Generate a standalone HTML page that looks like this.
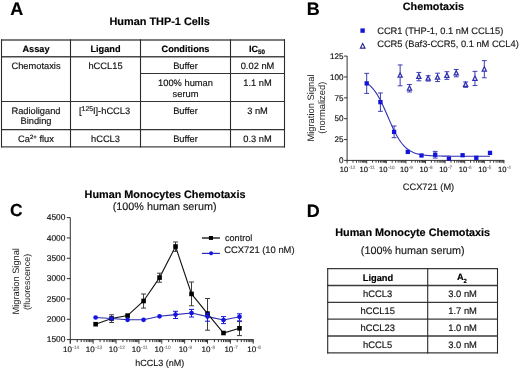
<!DOCTYPE html>
<html><head><meta charset="utf-8"><style>
html,body{margin:0;padding:0;background:#fff;width:520px;height:370px;overflow:hidden}
svg{display:block;font-family:"Liberation Sans", sans-serif;will-change:transform}
text{stroke-width:0.16px;text-rendering:geometricPrecision}
</style></head><body>
<svg width="520" height="370" viewBox="0 0 520 370">
<rect width="520" height="370" fill="#fff"/>
<text x="10.30" y="14.70" font-size="18" text-anchor="start" font-weight="bold" fill="#000" stroke="#000" stroke-width="0.18">A</text>
<text x="159.70" y="24.90" font-size="10.9" text-anchor="middle" font-weight="bold" fill="#000" stroke="#000" stroke-width="0.18">Human THP-1 Cells</text>
<line x1="1.00" y1="40.00" x2="285.00" y2="40.00" stroke="#505050" stroke-width="1.4"/>
<line x1="1.00" y1="56.70" x2="285.00" y2="56.70" stroke="#484848" stroke-width="1.4"/>
<line x1="1.00" y1="101.50" x2="285.00" y2="101.50" stroke="#333" stroke-width="1.1"/>
<line x1="1.00" y1="129.60" x2="285.00" y2="129.60" stroke="#333" stroke-width="1.15"/>
<line x1="1.00" y1="146.85" x2="285.00" y2="146.85" stroke="#444" stroke-width="1.4"/>
<line x1="140.50" y1="73.50" x2="285.00" y2="73.50" stroke="#333" stroke-width="1.1"/>
<line x1="1.50" y1="39.30" x2="1.50" y2="147.50" stroke="#2a2a2a" stroke-width="1.1"/>
<line x1="70.50" y1="39.30" x2="70.50" y2="147.50" stroke="#2a2a2a" stroke-width="1.1"/>
<line x1="140.50" y1="39.30" x2="140.50" y2="147.50" stroke="#2a2a2a" stroke-width="1.1"/>
<line x1="230.50" y1="39.30" x2="230.50" y2="147.50" stroke="#2a2a2a" stroke-width="1.1"/>
<line x1="284.50" y1="39.30" x2="284.50" y2="147.50" stroke="#2a2a2a" stroke-width="1.1"/>
<text x="36.00" y="51.50" font-size="9.2" text-anchor="middle" font-weight="bold" fill="#000" stroke="#000" stroke-width="0.18">Assay</text>
<text x="105.50" y="51.50" font-size="9.2" text-anchor="middle" font-weight="bold" fill="#000" stroke="#000" stroke-width="0.18">Ligand</text>
<text x="185.50" y="51.50" font-size="9.2" text-anchor="middle" font-weight="bold" fill="#000" stroke="#000" stroke-width="0.18">Conditions</text>
<text x="249.00" y="51.50" font-size="9.0" text-anchor="start" font-weight="bold" fill="#000" stroke="#000" stroke-width="0.18">IC<tspan font-size="6.3" dy="2.4">50</tspan></text>
<text x="36.00" y="68.50" font-size="9.3" text-anchor="middle" fill="#111" stroke="#111">Chemotaxis</text>
<text x="105.50" y="68.50" font-size="9.3" text-anchor="middle" fill="#111" stroke="#111">hCCL15</text>
<text x="185.50" y="68.50" font-size="9.3" text-anchor="middle" fill="#111" stroke="#111">Buffer</text>
<text x="257.50" y="68.50" font-size="9.3" text-anchor="middle" fill="#111" stroke="#111">0.02 nM</text>
<text x="185.50" y="85.50" font-size="9.3" text-anchor="middle" fill="#111" stroke="#111">100% human</text>
<text x="185.50" y="96.50" font-size="9.3" text-anchor="middle" fill="#111" stroke="#111">serum</text>
<text x="257.50" y="85.50" font-size="9.3" text-anchor="middle" fill="#111" stroke="#111">1.1 nM</text>
<text x="36.00" y="113.60" font-size="9.3" text-anchor="middle" fill="#111" stroke="#111">Radioligand</text>
<text x="36.00" y="124.30" font-size="9.3" text-anchor="middle" fill="#111" stroke="#111">Binding</text>
<text x="104.60" y="113.80" font-size="9.3" text-anchor="middle" fill="#111" stroke="#111">[<tspan font-size="6.8" dy="-3.2">125</tspan><tspan dy="3.2">I]-hCCL3</tspan></text>
<text x="185.50" y="113.80" font-size="9.3" text-anchor="middle" fill="#111" stroke="#111">Buffer</text>
<text x="257.50" y="113.80" font-size="9.3" text-anchor="middle" fill="#111" stroke="#111">3 nM</text>
<text x="36.00" y="141.50" font-size="9.3" text-anchor="middle" fill="#111" stroke="#111">Ca<tspan font-size="6" dy="-3">2+</tspan><tspan dy="3"> flux</tspan></text>
<text x="105.50" y="141.50" font-size="9.3" text-anchor="middle" fill="#111" stroke="#111">hCCL3</text>
<text x="185.50" y="141.50" font-size="9.3" text-anchor="middle" fill="#111" stroke="#111">Buffer</text>
<text x="257.50" y="141.50" font-size="9.3" text-anchor="middle" fill="#111" stroke="#111">0.3 nM</text>
<text x="306.80" y="14.60" font-size="18" text-anchor="start" font-weight="bold" fill="#000" stroke="#000" stroke-width="0.18">B</text>
<text x="433.40" y="10.40" font-size="10.8" text-anchor="middle" font-weight="bold" fill="#000" stroke="#000" stroke-width="0.18">Chemotaxis</text>
<rect x="360.4" y="28.4" width="4.4" height="4.4" fill="#1414d8"/>
<path d="M362.7 43.5 L365.0 48.1 L360.4 48.1 Z" fill="none" stroke="#2a2a8c" stroke-width="1.15"/>
<text x="377.20" y="33.70" font-size="9.3" text-anchor="start" fill="#1a1a1a" stroke="#1a1a1a">CCR1 (THP-1, 0.1 nM CCL15)</text>
<text x="377.20" y="47.30" font-size="9.3" text-anchor="start" fill="#1a1a1a" stroke="#1a1a1a">CCR5 (Baf3-CCR5, 0.1 nM CCL4)</text>
<line x1="347.10" y1="56.10" x2="347.10" y2="160.90" stroke="#333" stroke-width="1.0"/>
<line x1="346.60" y1="160.40" x2="504.40" y2="160.40" stroke="#333" stroke-width="1.0"/>
<line x1="344.10" y1="160.40" x2="347.10" y2="160.40" stroke="#333" stroke-width="1.0"/>
<text x="343.40" y="163.20" font-size="8.1" text-anchor="end" fill="#111" stroke="#111">0</text>
<line x1="344.10" y1="139.54" x2="347.10" y2="139.54" stroke="#333" stroke-width="1.0"/>
<text x="343.40" y="142.34" font-size="8.1" text-anchor="end" fill="#111" stroke="#111">25</text>
<line x1="344.10" y1="118.68" x2="347.10" y2="118.68" stroke="#333" stroke-width="1.0"/>
<text x="343.40" y="121.48" font-size="8.1" text-anchor="end" fill="#111" stroke="#111">50</text>
<line x1="344.10" y1="97.82" x2="347.10" y2="97.82" stroke="#333" stroke-width="1.0"/>
<text x="343.40" y="100.62" font-size="8.1" text-anchor="end" fill="#111" stroke="#111">75</text>
<line x1="344.10" y1="76.96" x2="347.10" y2="76.96" stroke="#333" stroke-width="1.0"/>
<text x="343.40" y="79.76" font-size="8.1" text-anchor="end" fill="#111" stroke="#111">100</text>
<line x1="344.10" y1="56.10" x2="347.10" y2="56.10" stroke="#333" stroke-width="1.0"/>
<text x="343.40" y="58.90" font-size="8.1" text-anchor="end" fill="#111" stroke="#111">125</text>
<line x1="347.10" y1="160.40" x2="347.10" y2="163.40" stroke="#333" stroke-width="1.0"/>
<line x1="353.00" y1="160.40" x2="353.00" y2="162.70" stroke="#333" stroke-width="1.0"/>
<line x1="356.45" y1="160.40" x2="356.45" y2="162.70" stroke="#333" stroke-width="1.0"/>
<line x1="358.90" y1="160.40" x2="358.90" y2="162.70" stroke="#333" stroke-width="1.0"/>
<line x1="360.80" y1="160.40" x2="360.80" y2="162.70" stroke="#333" stroke-width="1.0"/>
<line x1="362.35" y1="160.40" x2="362.35" y2="162.70" stroke="#333" stroke-width="1.0"/>
<line x1="363.66" y1="160.40" x2="363.66" y2="162.70" stroke="#333" stroke-width="1.0"/>
<line x1="364.80" y1="160.40" x2="364.80" y2="162.70" stroke="#333" stroke-width="1.0"/>
<line x1="365.80" y1="160.40" x2="365.80" y2="162.70" stroke="#333" stroke-width="1.0"/>
<text x="347.60" y="171.90" font-size="7.6" text-anchor="middle" fill="#111" stroke="#111">10<tspan font-size="4.6" dy="-2.6" fill="#888" stroke="#888" dx="0.4">-12</tspan></text>
<line x1="366.70" y1="160.40" x2="366.70" y2="163.40" stroke="#333" stroke-width="1.0"/>
<line x1="372.60" y1="160.40" x2="372.60" y2="162.70" stroke="#333" stroke-width="1.0"/>
<line x1="376.05" y1="160.40" x2="376.05" y2="162.70" stroke="#333" stroke-width="1.0"/>
<line x1="378.50" y1="160.40" x2="378.50" y2="162.70" stroke="#333" stroke-width="1.0"/>
<line x1="380.40" y1="160.40" x2="380.40" y2="162.70" stroke="#333" stroke-width="1.0"/>
<line x1="381.95" y1="160.40" x2="381.95" y2="162.70" stroke="#333" stroke-width="1.0"/>
<line x1="383.26" y1="160.40" x2="383.26" y2="162.70" stroke="#333" stroke-width="1.0"/>
<line x1="384.40" y1="160.40" x2="384.40" y2="162.70" stroke="#333" stroke-width="1.0"/>
<line x1="385.40" y1="160.40" x2="385.40" y2="162.70" stroke="#333" stroke-width="1.0"/>
<text x="367.20" y="171.90" font-size="7.6" text-anchor="middle" fill="#111" stroke="#111">10<tspan font-size="4.6" dy="-2.6" fill="#888" stroke="#888" dx="0.4">-11</tspan></text>
<line x1="386.30" y1="160.40" x2="386.30" y2="163.40" stroke="#333" stroke-width="1.0"/>
<line x1="392.20" y1="160.40" x2="392.20" y2="162.70" stroke="#333" stroke-width="1.0"/>
<line x1="395.65" y1="160.40" x2="395.65" y2="162.70" stroke="#333" stroke-width="1.0"/>
<line x1="398.10" y1="160.40" x2="398.10" y2="162.70" stroke="#333" stroke-width="1.0"/>
<line x1="400.00" y1="160.40" x2="400.00" y2="162.70" stroke="#333" stroke-width="1.0"/>
<line x1="401.55" y1="160.40" x2="401.55" y2="162.70" stroke="#333" stroke-width="1.0"/>
<line x1="402.86" y1="160.40" x2="402.86" y2="162.70" stroke="#333" stroke-width="1.0"/>
<line x1="404.00" y1="160.40" x2="404.00" y2="162.70" stroke="#333" stroke-width="1.0"/>
<line x1="405.00" y1="160.40" x2="405.00" y2="162.70" stroke="#333" stroke-width="1.0"/>
<text x="386.80" y="171.90" font-size="7.6" text-anchor="middle" fill="#111" stroke="#111">10<tspan font-size="4.6" dy="-2.6" fill="#888" stroke="#888" dx="0.4">-10</tspan></text>
<line x1="405.90" y1="160.40" x2="405.90" y2="163.40" stroke="#333" stroke-width="1.0"/>
<line x1="411.80" y1="160.40" x2="411.80" y2="162.70" stroke="#333" stroke-width="1.0"/>
<line x1="415.25" y1="160.40" x2="415.25" y2="162.70" stroke="#333" stroke-width="1.0"/>
<line x1="417.70" y1="160.40" x2="417.70" y2="162.70" stroke="#333" stroke-width="1.0"/>
<line x1="419.60" y1="160.40" x2="419.60" y2="162.70" stroke="#333" stroke-width="1.0"/>
<line x1="421.15" y1="160.40" x2="421.15" y2="162.70" stroke="#333" stroke-width="1.0"/>
<line x1="422.46" y1="160.40" x2="422.46" y2="162.70" stroke="#333" stroke-width="1.0"/>
<line x1="423.60" y1="160.40" x2="423.60" y2="162.70" stroke="#333" stroke-width="1.0"/>
<line x1="424.60" y1="160.40" x2="424.60" y2="162.70" stroke="#333" stroke-width="1.0"/>
<text x="406.40" y="171.90" font-size="7.6" text-anchor="middle" fill="#111" stroke="#111">10<tspan font-size="4.6" dy="-2.6" fill="#888" stroke="#888" dx="0.4">-9</tspan></text>
<line x1="425.50" y1="160.40" x2="425.50" y2="163.40" stroke="#333" stroke-width="1.0"/>
<line x1="431.40" y1="160.40" x2="431.40" y2="162.70" stroke="#333" stroke-width="1.0"/>
<line x1="434.85" y1="160.40" x2="434.85" y2="162.70" stroke="#333" stroke-width="1.0"/>
<line x1="437.30" y1="160.40" x2="437.30" y2="162.70" stroke="#333" stroke-width="1.0"/>
<line x1="439.20" y1="160.40" x2="439.20" y2="162.70" stroke="#333" stroke-width="1.0"/>
<line x1="440.75" y1="160.40" x2="440.75" y2="162.70" stroke="#333" stroke-width="1.0"/>
<line x1="442.06" y1="160.40" x2="442.06" y2="162.70" stroke="#333" stroke-width="1.0"/>
<line x1="443.20" y1="160.40" x2="443.20" y2="162.70" stroke="#333" stroke-width="1.0"/>
<line x1="444.20" y1="160.40" x2="444.20" y2="162.70" stroke="#333" stroke-width="1.0"/>
<text x="426.00" y="171.90" font-size="7.6" text-anchor="middle" fill="#111" stroke="#111">10<tspan font-size="4.6" dy="-2.6" fill="#888" stroke="#888" dx="0.4">-8</tspan></text>
<line x1="445.10" y1="160.40" x2="445.10" y2="163.40" stroke="#333" stroke-width="1.0"/>
<line x1="451.00" y1="160.40" x2="451.00" y2="162.70" stroke="#333" stroke-width="1.0"/>
<line x1="454.45" y1="160.40" x2="454.45" y2="162.70" stroke="#333" stroke-width="1.0"/>
<line x1="456.90" y1="160.40" x2="456.90" y2="162.70" stroke="#333" stroke-width="1.0"/>
<line x1="458.80" y1="160.40" x2="458.80" y2="162.70" stroke="#333" stroke-width="1.0"/>
<line x1="460.35" y1="160.40" x2="460.35" y2="162.70" stroke="#333" stroke-width="1.0"/>
<line x1="461.66" y1="160.40" x2="461.66" y2="162.70" stroke="#333" stroke-width="1.0"/>
<line x1="462.80" y1="160.40" x2="462.80" y2="162.70" stroke="#333" stroke-width="1.0"/>
<line x1="463.80" y1="160.40" x2="463.80" y2="162.70" stroke="#333" stroke-width="1.0"/>
<text x="445.60" y="171.90" font-size="7.6" text-anchor="middle" fill="#111" stroke="#111">10<tspan font-size="4.6" dy="-2.6" fill="#888" stroke="#888" dx="0.4">-7</tspan></text>
<line x1="464.70" y1="160.40" x2="464.70" y2="163.40" stroke="#333" stroke-width="1.0"/>
<line x1="470.60" y1="160.40" x2="470.60" y2="162.70" stroke="#333" stroke-width="1.0"/>
<line x1="474.05" y1="160.40" x2="474.05" y2="162.70" stroke="#333" stroke-width="1.0"/>
<line x1="476.50" y1="160.40" x2="476.50" y2="162.70" stroke="#333" stroke-width="1.0"/>
<line x1="478.40" y1="160.40" x2="478.40" y2="162.70" stroke="#333" stroke-width="1.0"/>
<line x1="479.95" y1="160.40" x2="479.95" y2="162.70" stroke="#333" stroke-width="1.0"/>
<line x1="481.26" y1="160.40" x2="481.26" y2="162.70" stroke="#333" stroke-width="1.0"/>
<line x1="482.40" y1="160.40" x2="482.40" y2="162.70" stroke="#333" stroke-width="1.0"/>
<line x1="483.40" y1="160.40" x2="483.40" y2="162.70" stroke="#333" stroke-width="1.0"/>
<text x="465.20" y="171.90" font-size="7.6" text-anchor="middle" fill="#111" stroke="#111">10<tspan font-size="4.6" dy="-2.6" fill="#888" stroke="#888" dx="0.4">-6</tspan></text>
<line x1="484.30" y1="160.40" x2="484.30" y2="163.40" stroke="#333" stroke-width="1.0"/>
<line x1="490.20" y1="160.40" x2="490.20" y2="162.70" stroke="#333" stroke-width="1.0"/>
<line x1="493.65" y1="160.40" x2="493.65" y2="162.70" stroke="#333" stroke-width="1.0"/>
<line x1="496.10" y1="160.40" x2="496.10" y2="162.70" stroke="#333" stroke-width="1.0"/>
<line x1="498.00" y1="160.40" x2="498.00" y2="162.70" stroke="#333" stroke-width="1.0"/>
<line x1="499.55" y1="160.40" x2="499.55" y2="162.70" stroke="#333" stroke-width="1.0"/>
<line x1="500.86" y1="160.40" x2="500.86" y2="162.70" stroke="#333" stroke-width="1.0"/>
<line x1="502.00" y1="160.40" x2="502.00" y2="162.70" stroke="#333" stroke-width="1.0"/>
<line x1="503.00" y1="160.40" x2="503.00" y2="162.70" stroke="#333" stroke-width="1.0"/>
<text x="484.80" y="171.90" font-size="7.6" text-anchor="middle" fill="#111" stroke="#111">10<tspan font-size="4.6" dy="-2.6" fill="#888" stroke="#888" dx="0.4">-5</tspan></text>
<line x1="503.90" y1="160.40" x2="503.90" y2="163.40" stroke="#333" stroke-width="1.0"/>
<text x="504.40" y="171.90" font-size="7.6" text-anchor="middle" fill="#111" stroke="#111">10<tspan font-size="4.6" dy="-2.6" fill="#888" stroke="#888" dx="0.4">-4</tspan></text>
<text x="428.50" y="190.00" font-size="9.25" text-anchor="middle" fill="#1a1a1a" stroke="#1a1a1a">CCX721 (M)</text>
<text transform="translate(314.2,108.0) rotate(-90)" font-size="9.4" text-anchor="middle" fill="#1a1a1a" stroke="none">Migration Signal</text>
<text transform="translate(324.9,107.7) rotate(-90)" font-size="9.4" text-anchor="middle" fill="#1a1a1a" stroke="none">(normalized)</text>
<path d="M400.14 64.94 V85.80 M397.74 64.94 H402.54 M397.74 85.80 H402.54" stroke="#3c3cb6" stroke-width="1" fill="none"/>
<path d="M400.14 72.97 L402.24 77.17 L398.04 77.17 Z" fill="#fff" stroke="#2e2eae" stroke-width="1.25"/>
<path d="M409.49 84.47 V91.98 M407.09 84.47 H411.89 M407.09 91.98 H411.89" stroke="#3c3cb6" stroke-width="1" fill="none"/>
<path d="M409.49 85.82 L411.59 90.02 L407.39 90.02 Z" fill="#fff" stroke="#2e2eae" stroke-width="1.25"/>
<path d="M418.84 72.45 V80.80 M416.44 72.45 H421.24 M416.44 80.80 H421.24" stroke="#3c3cb6" stroke-width="1" fill="none"/>
<path d="M418.84 74.23 L420.94 78.43 L416.74 78.43 Z" fill="#fff" stroke="#2e2eae" stroke-width="1.25"/>
<path d="M428.19 75.71 V81.05 M425.79 75.71 H430.59 M425.79 81.05 H430.59" stroke="#3c3cb6" stroke-width="1" fill="none"/>
<path d="M428.19 75.98 L430.29 80.18 L426.09 80.18 Z" fill="#fff" stroke="#2e2eae" stroke-width="1.25"/>
<path d="M437.54 73.21 V81.55 M435.14 73.21 H439.94 M435.14 81.55 H439.94" stroke="#3c3cb6" stroke-width="1" fill="none"/>
<path d="M437.54 74.98 L439.64 79.18 L435.44 79.18 Z" fill="#fff" stroke="#2e2eae" stroke-width="1.25"/>
<path d="M446.89 71.70 V79.38 M444.49 71.70 H449.29 M444.49 79.38 H449.29" stroke="#3c3cb6" stroke-width="1" fill="none"/>
<path d="M446.89 73.14 L448.99 77.34 L444.79 77.34 Z" fill="#fff" stroke="#2e2eae" stroke-width="1.25"/>
<path d="M456.25 69.45 V76.79 M453.85 69.45 H458.65 M453.85 76.79 H458.65" stroke="#3c3cb6" stroke-width="1" fill="none"/>
<path d="M456.25 70.72 L458.35 74.92 L454.15 74.92 Z" fill="#fff" stroke="#2e2eae" stroke-width="1.25"/>
<path d="M465.60 81.97 V87.31 M463.20 81.97 H468.00 M463.20 87.31 H468.00" stroke="#3c3cb6" stroke-width="1" fill="none"/>
<path d="M465.60 82.24 L467.70 86.44 L463.50 86.44 Z" fill="#fff" stroke="#2e2eae" stroke-width="1.25"/>
<path d="M474.95 71.37 V85.55 M472.55 71.37 H477.35 M472.55 85.55 H477.35" stroke="#3c3cb6" stroke-width="1" fill="none"/>
<path d="M474.95 76.06 L477.05 80.26 L472.85 80.26 Z" fill="#fff" stroke="#2e2eae" stroke-width="1.25"/>
<path d="M484.30 60.61 V77.79 M481.90 60.61 H486.70 M481.90 77.79 H486.70" stroke="#3c3cb6" stroke-width="1" fill="none"/>
<path d="M484.30 66.80 L486.40 71.00 L482.20 71.00 Z" fill="#fff" stroke="#2e2eae" stroke-width="1.25"/>
<polyline points="366.70,83.06 368.24,84.16 369.78,85.43 371.32,86.90 372.86,88.59 374.41,90.50 375.95,92.66 377.49,95.06 379.03,97.72 380.57,100.61 382.11,103.72 383.65,107.01 385.19,110.46 386.74,114.00 388.28,117.58 389.82,121.15 391.36,124.65 392.90,128.02 394.44,131.21 395.98,134.21 397.52,136.97 399.07,139.48 400.61,141.75 402.15,143.77 403.69,145.56 405.23,147.12 406.77,148.48 408.31,149.66 409.85,150.67 411.40,151.54 412.94,152.27 414.48,152.90 416.02,153.43 417.56,153.88 419.10,154.26 420.64,154.58 422.18,154.85 423.73,155.07 425.27,155.26 426.81,155.42 428.35,155.55 429.89,155.66 431.43,155.76 432.97,155.83 434.51,155.90 436.06,155.95 437.60,156.00 439.14,156.04 440.68,156.07 442.22,156.09 443.76,156.12 445.30,156.14 446.84,156.15 448.39,156.16 449.93,156.17 451.47,156.18 453.01,156.19 454.55,156.20 456.09,156.20 457.63,156.21 459.17,156.21 460.71,156.21 462.26,156.22 463.80,156.22 465.34,156.22 466.88,156.22 468.42,156.22 469.96,156.22 471.50,156.22 473.04,156.22 474.59,156.23 476.13,156.23 477.67,156.23 479.21,156.23 480.75,156.23 482.29,156.23 483.83,156.23 485.37,156.23 486.92,156.23 488.46,156.23 490.00,156.23" fill="none" stroke="#2e2eae" stroke-width="1.1"/>
<path d="M366.70 73.37 V93.40 M364.30 73.37 H369.10 M364.30 93.40 H369.10" stroke="#3c3cb6" stroke-width="1" fill="none"/>
<rect x="364.55" y="81.23" width="4.3" height="4.3" fill="#1414d8"/>
<path d="M380.40 92.98 V111.34 M378.00 92.98 H382.80 M378.00 111.34 H382.80" stroke="#3c3cb6" stroke-width="1" fill="none"/>
<rect x="378.25" y="100.01" width="4.3" height="4.3" fill="#1414d8"/>
<path d="M394.10 126.02 V137.70 M391.70 126.02 H396.50 M391.70 137.70 H396.50" stroke="#3c3cb6" stroke-width="1" fill="none"/>
<rect x="391.95" y="129.71" width="4.3" height="4.3" fill="#1414d8"/>
<rect x="405.65" y="149.74" width="4.3" height="4.3" fill="#1414d8"/>
<rect x="419.35" y="153.33" width="4.3" height="4.3" fill="#1414d8"/>
<path d="M435.20 151.39 V158.06 M432.80 151.39 H437.60 M432.80 158.06 H437.60" stroke="#3c3cb6" stroke-width="1" fill="none"/>
<rect x="433.05" y="152.58" width="4.3" height="4.3" fill="#1414d8"/>
<rect x="446.75" y="156.58" width="4.3" height="4.3" fill="#1414d8"/>
<rect x="460.45" y="153.08" width="4.3" height="4.3" fill="#1414d8"/>
<rect x="474.15" y="155.66" width="4.3" height="4.3" fill="#1414d8"/>
<rect x="487.85" y="150.74" width="4.3" height="4.3" fill="#1414d8"/>
<text x="10.10" y="216.40" font-size="17.4" text-anchor="start" font-weight="bold" fill="#000" stroke="#000" stroke-width="0.18">C</text>
<text x="165.00" y="197.50" font-size="10.85" text-anchor="middle" font-weight="bold" fill="#000" stroke="#000" stroke-width="0.18">Human Monocytes Chemotaxis</text>
<text x="164.60" y="210.30" font-size="10.8" text-anchor="middle" fill="#1a1a1a" stroke="#1a1a1a">(100% human serum)</text>
<line x1="70.30" y1="217.60" x2="70.30" y2="343.60" stroke="#333" stroke-width="1.0"/>
<line x1="69.80" y1="339.60" x2="253.76" y2="339.60" stroke="#333" stroke-width="1.0"/>
<line x1="66.80" y1="339.60" x2="70.30" y2="339.60" stroke="#333" stroke-width="1.0"/>
<text x="65.40" y="342.20" font-size="8.4" text-anchor="end" fill="#111" stroke="#111">1500</text>
<line x1="66.80" y1="319.27" x2="70.30" y2="319.27" stroke="#333" stroke-width="1.0"/>
<text x="65.40" y="321.87" font-size="8.4" text-anchor="end" fill="#111" stroke="#111">2000</text>
<line x1="66.80" y1="298.93" x2="70.30" y2="298.93" stroke="#333" stroke-width="1.0"/>
<text x="65.40" y="301.53" font-size="8.4" text-anchor="end" fill="#111" stroke="#111">2500</text>
<line x1="66.80" y1="278.60" x2="70.30" y2="278.60" stroke="#333" stroke-width="1.0"/>
<text x="65.40" y="281.20" font-size="8.4" text-anchor="end" fill="#111" stroke="#111">3000</text>
<line x1="66.80" y1="258.27" x2="70.30" y2="258.27" stroke="#333" stroke-width="1.0"/>
<text x="65.40" y="260.87" font-size="8.4" text-anchor="end" fill="#111" stroke="#111">3500</text>
<line x1="66.80" y1="237.93" x2="70.30" y2="237.93" stroke="#333" stroke-width="1.0"/>
<text x="65.40" y="240.53" font-size="8.4" text-anchor="end" fill="#111" stroke="#111">4000</text>
<line x1="66.80" y1="217.60" x2="70.30" y2="217.60" stroke="#333" stroke-width="1.0"/>
<text x="65.40" y="220.20" font-size="8.4" text-anchor="end" fill="#111" stroke="#111">4500</text>
<line x1="70.30" y1="339.60" x2="70.30" y2="343.60" stroke="#333" stroke-width="1.0"/>
<line x1="77.18" y1="339.60" x2="77.18" y2="342.10" stroke="#333" stroke-width="1.0"/>
<line x1="81.21" y1="339.60" x2="81.21" y2="342.10" stroke="#333" stroke-width="1.0"/>
<line x1="84.07" y1="339.60" x2="84.07" y2="342.10" stroke="#333" stroke-width="1.0"/>
<line x1="86.29" y1="339.60" x2="86.29" y2="342.10" stroke="#333" stroke-width="1.0"/>
<line x1="88.10" y1="339.60" x2="88.10" y2="342.10" stroke="#333" stroke-width="1.0"/>
<line x1="89.63" y1="339.60" x2="89.63" y2="342.10" stroke="#333" stroke-width="1.0"/>
<line x1="90.95" y1="339.60" x2="90.95" y2="342.10" stroke="#333" stroke-width="1.0"/>
<line x1="92.12" y1="339.60" x2="92.12" y2="342.10" stroke="#333" stroke-width="1.0"/>
<text x="71.10" y="351.80" font-size="8.0" text-anchor="middle" fill="#111" stroke="#111">10<tspan font-size="4.8" dy="-2.9" fill="#888" stroke="#888" dx="0.4">-14</tspan></text>
<line x1="93.17" y1="339.60" x2="93.17" y2="343.60" stroke="#333" stroke-width="1.0"/>
<line x1="100.05" y1="339.60" x2="100.05" y2="342.10" stroke="#333" stroke-width="1.0"/>
<line x1="104.08" y1="339.60" x2="104.08" y2="342.10" stroke="#333" stroke-width="1.0"/>
<line x1="106.94" y1="339.60" x2="106.94" y2="342.10" stroke="#333" stroke-width="1.0"/>
<line x1="109.16" y1="339.60" x2="109.16" y2="342.10" stroke="#333" stroke-width="1.0"/>
<line x1="110.97" y1="339.60" x2="110.97" y2="342.10" stroke="#333" stroke-width="1.0"/>
<line x1="112.50" y1="339.60" x2="112.50" y2="342.10" stroke="#333" stroke-width="1.0"/>
<line x1="113.82" y1="339.60" x2="113.82" y2="342.10" stroke="#333" stroke-width="1.0"/>
<line x1="114.99" y1="339.60" x2="114.99" y2="342.10" stroke="#333" stroke-width="1.0"/>
<text x="93.97" y="351.80" font-size="8.0" text-anchor="middle" fill="#111" stroke="#111">10<tspan font-size="4.8" dy="-2.9" fill="#888" stroke="#888" dx="0.4">-13</tspan></text>
<line x1="116.04" y1="339.60" x2="116.04" y2="343.60" stroke="#333" stroke-width="1.0"/>
<line x1="122.92" y1="339.60" x2="122.92" y2="342.10" stroke="#333" stroke-width="1.0"/>
<line x1="126.95" y1="339.60" x2="126.95" y2="342.10" stroke="#333" stroke-width="1.0"/>
<line x1="129.81" y1="339.60" x2="129.81" y2="342.10" stroke="#333" stroke-width="1.0"/>
<line x1="132.03" y1="339.60" x2="132.03" y2="342.10" stroke="#333" stroke-width="1.0"/>
<line x1="133.84" y1="339.60" x2="133.84" y2="342.10" stroke="#333" stroke-width="1.0"/>
<line x1="135.37" y1="339.60" x2="135.37" y2="342.10" stroke="#333" stroke-width="1.0"/>
<line x1="136.69" y1="339.60" x2="136.69" y2="342.10" stroke="#333" stroke-width="1.0"/>
<line x1="137.86" y1="339.60" x2="137.86" y2="342.10" stroke="#333" stroke-width="1.0"/>
<text x="116.84" y="351.80" font-size="8.0" text-anchor="middle" fill="#111" stroke="#111">10<tspan font-size="4.8" dy="-2.9" fill="#888" stroke="#888" dx="0.4">-12</tspan></text>
<line x1="138.91" y1="339.60" x2="138.91" y2="343.60" stroke="#333" stroke-width="1.0"/>
<line x1="145.79" y1="339.60" x2="145.79" y2="342.10" stroke="#333" stroke-width="1.0"/>
<line x1="149.82" y1="339.60" x2="149.82" y2="342.10" stroke="#333" stroke-width="1.0"/>
<line x1="152.68" y1="339.60" x2="152.68" y2="342.10" stroke="#333" stroke-width="1.0"/>
<line x1="154.90" y1="339.60" x2="154.90" y2="342.10" stroke="#333" stroke-width="1.0"/>
<line x1="156.71" y1="339.60" x2="156.71" y2="342.10" stroke="#333" stroke-width="1.0"/>
<line x1="158.24" y1="339.60" x2="158.24" y2="342.10" stroke="#333" stroke-width="1.0"/>
<line x1="159.56" y1="339.60" x2="159.56" y2="342.10" stroke="#333" stroke-width="1.0"/>
<line x1="160.73" y1="339.60" x2="160.73" y2="342.10" stroke="#333" stroke-width="1.0"/>
<text x="139.71" y="351.80" font-size="8.0" text-anchor="middle" fill="#111" stroke="#111">10<tspan font-size="4.8" dy="-2.9" fill="#888" stroke="#888" dx="0.4">-11</tspan></text>
<line x1="161.78" y1="339.60" x2="161.78" y2="343.60" stroke="#333" stroke-width="1.0"/>
<line x1="168.66" y1="339.60" x2="168.66" y2="342.10" stroke="#333" stroke-width="1.0"/>
<line x1="172.69" y1="339.60" x2="172.69" y2="342.10" stroke="#333" stroke-width="1.0"/>
<line x1="175.55" y1="339.60" x2="175.55" y2="342.10" stroke="#333" stroke-width="1.0"/>
<line x1="177.77" y1="339.60" x2="177.77" y2="342.10" stroke="#333" stroke-width="1.0"/>
<line x1="179.58" y1="339.60" x2="179.58" y2="342.10" stroke="#333" stroke-width="1.0"/>
<line x1="181.11" y1="339.60" x2="181.11" y2="342.10" stroke="#333" stroke-width="1.0"/>
<line x1="182.43" y1="339.60" x2="182.43" y2="342.10" stroke="#333" stroke-width="1.0"/>
<line x1="183.60" y1="339.60" x2="183.60" y2="342.10" stroke="#333" stroke-width="1.0"/>
<text x="162.58" y="351.80" font-size="8.0" text-anchor="middle" fill="#111" stroke="#111">10<tspan font-size="4.8" dy="-2.9" fill="#888" stroke="#888" dx="0.4">-10</tspan></text>
<line x1="184.65" y1="339.60" x2="184.65" y2="343.60" stroke="#333" stroke-width="1.0"/>
<line x1="191.53" y1="339.60" x2="191.53" y2="342.10" stroke="#333" stroke-width="1.0"/>
<line x1="195.56" y1="339.60" x2="195.56" y2="342.10" stroke="#333" stroke-width="1.0"/>
<line x1="198.42" y1="339.60" x2="198.42" y2="342.10" stroke="#333" stroke-width="1.0"/>
<line x1="200.64" y1="339.60" x2="200.64" y2="342.10" stroke="#333" stroke-width="1.0"/>
<line x1="202.45" y1="339.60" x2="202.45" y2="342.10" stroke="#333" stroke-width="1.0"/>
<line x1="203.98" y1="339.60" x2="203.98" y2="342.10" stroke="#333" stroke-width="1.0"/>
<line x1="205.30" y1="339.60" x2="205.30" y2="342.10" stroke="#333" stroke-width="1.0"/>
<line x1="206.47" y1="339.60" x2="206.47" y2="342.10" stroke="#333" stroke-width="1.0"/>
<text x="185.45" y="351.80" font-size="8.0" text-anchor="middle" fill="#111" stroke="#111">10<tspan font-size="4.8" dy="-2.9" fill="#888" stroke="#888" dx="0.4">-9</tspan></text>
<line x1="207.52" y1="339.60" x2="207.52" y2="343.60" stroke="#333" stroke-width="1.0"/>
<line x1="214.40" y1="339.60" x2="214.40" y2="342.10" stroke="#333" stroke-width="1.0"/>
<line x1="218.43" y1="339.60" x2="218.43" y2="342.10" stroke="#333" stroke-width="1.0"/>
<line x1="221.29" y1="339.60" x2="221.29" y2="342.10" stroke="#333" stroke-width="1.0"/>
<line x1="223.51" y1="339.60" x2="223.51" y2="342.10" stroke="#333" stroke-width="1.0"/>
<line x1="225.32" y1="339.60" x2="225.32" y2="342.10" stroke="#333" stroke-width="1.0"/>
<line x1="226.85" y1="339.60" x2="226.85" y2="342.10" stroke="#333" stroke-width="1.0"/>
<line x1="228.17" y1="339.60" x2="228.17" y2="342.10" stroke="#333" stroke-width="1.0"/>
<line x1="229.34" y1="339.60" x2="229.34" y2="342.10" stroke="#333" stroke-width="1.0"/>
<text x="208.32" y="351.80" font-size="8.0" text-anchor="middle" fill="#111" stroke="#111">10<tspan font-size="4.8" dy="-2.9" fill="#888" stroke="#888" dx="0.4">-8</tspan></text>
<line x1="230.39" y1="339.60" x2="230.39" y2="343.60" stroke="#333" stroke-width="1.0"/>
<line x1="237.27" y1="339.60" x2="237.27" y2="342.10" stroke="#333" stroke-width="1.0"/>
<line x1="241.30" y1="339.60" x2="241.30" y2="342.10" stroke="#333" stroke-width="1.0"/>
<line x1="244.16" y1="339.60" x2="244.16" y2="342.10" stroke="#333" stroke-width="1.0"/>
<line x1="246.38" y1="339.60" x2="246.38" y2="342.10" stroke="#333" stroke-width="1.0"/>
<line x1="248.19" y1="339.60" x2="248.19" y2="342.10" stroke="#333" stroke-width="1.0"/>
<line x1="249.72" y1="339.60" x2="249.72" y2="342.10" stroke="#333" stroke-width="1.0"/>
<line x1="251.04" y1="339.60" x2="251.04" y2="342.10" stroke="#333" stroke-width="1.0"/>
<line x1="252.21" y1="339.60" x2="252.21" y2="342.10" stroke="#333" stroke-width="1.0"/>
<text x="231.19" y="351.80" font-size="8.0" text-anchor="middle" fill="#111" stroke="#111">10<tspan font-size="4.8" dy="-2.9" fill="#888" stroke="#888" dx="0.4">-7</tspan></text>
<line x1="253.26" y1="339.60" x2="253.26" y2="343.60" stroke="#333" stroke-width="1.0"/>
<text x="254.06" y="351.80" font-size="8.0" text-anchor="middle" fill="#111" stroke="#111">10<tspan font-size="4.8" dy="-2.9" fill="#888" stroke="#888" dx="0.4">-6</tspan></text>
<text x="159.70" y="366.20" font-size="9.0" text-anchor="middle" fill="#1a1a1a" stroke="#1a1a1a">hCCL3 (nM)</text>
<text transform="translate(18.8,281.3) rotate(-90)" font-size="9.25" text-anchor="middle" fill="#1a1a1a" stroke="none">Migration Signal</text>
<text transform="translate(29.6,282.0) rotate(-90)" font-size="8.9" text-anchor="middle" fill="#1a1a1a" stroke="none">(fluorescence)</text>
<polyline points="95.62,317.50 111.60,318.50 127.59,319.80 143.57,319.80 159.56,316.30 175.54,314.60 191.53,313.00 207.52,316.60 223.50,320.00 239.49,316.80" fill="none" stroke="#2c2cac" stroke-width="1.1"/>
<polyline points="95.62,324.20 111.60,318.50 127.59,315.60 143.57,301.00 159.56,277.60 175.54,246.50 191.53,293.90 207.52,313.60 223.50,333.00 239.49,328.30" fill="none" stroke="#111" stroke-width="1.1"/>
<path d="M111.60 314.80 V322.50 M109.10 314.80 H114.10 M109.10 322.50 H114.10" stroke="#3a3a3a" stroke-width="1" fill="none"/>
<path d="M143.57 294.00 V308.10 M141.07 294.00 H146.07 M141.07 308.10 H146.07" stroke="#3a3a3a" stroke-width="1" fill="none"/>
<path d="M159.56 273.20 V282.20 M157.06 273.20 H162.06 M157.06 282.20 H162.06" stroke="#3a3a3a" stroke-width="1" fill="none"/>
<path d="M175.54 242.00 V251.40 M173.04 242.00 H178.04 M173.04 251.40 H178.04" stroke="#3a3a3a" stroke-width="1" fill="none"/>
<path d="M191.53 282.00 V305.80 M189.03 282.00 H194.03 M189.03 305.80 H194.03" stroke="#3a3a3a" stroke-width="1" fill="none"/>
<path d="M207.52 298.50 V330.20 M205.02 298.50 H210.02 M205.02 330.20 H210.02" stroke="#3a3a3a" stroke-width="1" fill="none"/>
<path d="M239.49 321.60 V335.60 M236.99 321.60 H241.99 M236.99 335.60 H241.99" stroke="#3a3a3a" stroke-width="1" fill="none"/>
<rect x="93.32" y="321.90" width="4.6" height="4.6" fill="#000"/>
<rect x="109.30" y="316.20" width="4.6" height="4.6" fill="#000"/>
<rect x="125.29" y="313.30" width="4.6" height="4.6" fill="#000"/>
<rect x="141.27" y="298.70" width="4.6" height="4.6" fill="#000"/>
<rect x="157.26" y="275.30" width="4.6" height="4.6" fill="#000"/>
<rect x="173.24" y="244.20" width="4.6" height="4.6" fill="#000"/>
<rect x="189.23" y="291.60" width="4.6" height="4.6" fill="#000"/>
<rect x="205.22" y="311.30" width="4.6" height="4.6" fill="#000"/>
<rect x="221.20" y="330.70" width="4.6" height="4.6" fill="#000"/>
<rect x="237.19" y="326.00" width="4.6" height="4.6" fill="#000"/>
<path d="M175.54 311.30 V318.50 M173.04 311.30 H178.04 M173.04 318.50 H178.04" stroke="#1515e0" stroke-width="1" fill="none"/>
<path d="M191.53 309.40 V317.00 M189.03 309.40 H194.03 M189.03 317.00 H194.03" stroke="#1515e0" stroke-width="1" fill="none"/>
<path d="M207.52 313.20 V321.20 M205.02 313.20 H210.02 M205.02 321.20 H210.02" stroke="#1515e0" stroke-width="1" fill="none"/>
<path d="M223.50 316.60 V323.60 M221.00 316.60 H226.00 M221.00 323.60 H226.00" stroke="#1515e0" stroke-width="1" fill="none"/>
<path d="M239.49 313.80 V320.90 M236.99 313.80 H241.99 M236.99 320.90 H241.99" stroke="#1515e0" stroke-width="1" fill="none"/>
<circle cx="95.62" cy="317.50" r="2.35" fill="#1515e0"/>
<circle cx="111.60" cy="318.50" r="2.35" fill="#1515e0"/>
<circle cx="127.59" cy="319.80" r="2.35" fill="#1515e0"/>
<circle cx="143.57" cy="319.80" r="2.35" fill="#1515e0"/>
<circle cx="159.56" cy="316.30" r="2.35" fill="#1515e0"/>
<circle cx="175.54" cy="314.60" r="2.35" fill="#1515e0"/>
<circle cx="191.53" cy="313.00" r="2.35" fill="#1515e0"/>
<circle cx="207.52" cy="316.60" r="2.35" fill="#1515e0"/>
<circle cx="223.50" cy="320.00" r="2.35" fill="#1515e0"/>
<circle cx="239.49" cy="316.80" r="2.35" fill="#1515e0"/>
<line x1="201.90" y1="238.00" x2="219.90" y2="238.00" stroke="#000" stroke-width="1.25"/>
<rect x="208.9" y="236.0" width="4.1" height="3.9" fill="#000"/>
<text x="225.00" y="241.20" font-size="9.1" text-anchor="start" fill="#1a1a1a" stroke="#1a1a1a">control</text>
<line x1="201.90" y1="253.40" x2="219.90" y2="253.40" stroke="#2a2ab8" stroke-width="1.2"/>
<circle cx="211.1" cy="253.3" r="2.0" fill="#1515e0"/>
<text x="224.20" y="253.40" font-size="9.4" text-anchor="start" fill="#1a1a1a" stroke="#1a1a1a">CCX721 (10 nM)</text>
<text x="306.80" y="216.50" font-size="18" text-anchor="start" font-weight="bold" fill="#000" stroke="#000" stroke-width="0.18">D</text>
<text x="412.70" y="236.00" font-size="10.85" text-anchor="middle" font-weight="bold" fill="#000" stroke="#000" stroke-width="0.18">Human Monocyte Chemotaxis</text>
<text x="412.70" y="254.20" font-size="10.8" text-anchor="middle" fill="#1a1a1a" stroke="#1a1a1a">(100% human serum)</text>
<line x1="327.20" y1="268.70" x2="498.00" y2="268.70" stroke="#3a3a3a" stroke-width="1.3"/>
<line x1="327.20" y1="285.50" x2="498.00" y2="285.50" stroke="#3a3a3a" stroke-width="1.3"/>
<line x1="327.20" y1="302.40" x2="498.00" y2="302.40" stroke="#3a3a3a" stroke-width="1.3"/>
<line x1="327.20" y1="319.20" x2="498.00" y2="319.20" stroke="#3a3a3a" stroke-width="1.3"/>
<line x1="327.20" y1="336.00" x2="498.00" y2="336.00" stroke="#3a3a3a" stroke-width="1.3"/>
<line x1="327.20" y1="352.90" x2="498.00" y2="352.90" stroke="#3a3a3a" stroke-width="1.3"/>
<line x1="327.70" y1="268.10" x2="327.70" y2="353.50" stroke="#2a2a2a" stroke-width="1.1"/>
<line x1="427.70" y1="268.10" x2="427.70" y2="353.50" stroke="#2a2a2a" stroke-width="1.1"/>
<line x1="497.50" y1="268.10" x2="497.50" y2="353.50" stroke="#2a2a2a" stroke-width="1.1"/>
<text x="378.00" y="280.60" font-size="9.3" text-anchor="middle" font-weight="bold" fill="#000" stroke="#000" stroke-width="0.18">Ligand</text>
<text x="461.90" y="280.30" font-size="9.2" text-anchor="middle" font-weight="bold" fill="#000" stroke="#000" stroke-width="0.18">A<tspan font-size="6" dy="2.4">2</tspan></text>
<text x="377.70" y="297.00" font-size="9.4" text-anchor="middle" fill="#111" stroke="#111">hCCL3</text>
<text x="462.60" y="297.00" font-size="9.4" text-anchor="middle" fill="#111" stroke="#111">3.0 nM</text>
<text x="377.70" y="313.90" font-size="9.4" text-anchor="middle" fill="#111" stroke="#111">hCCL15</text>
<text x="462.60" y="313.90" font-size="9.4" text-anchor="middle" fill="#111" stroke="#111">1.7 nM</text>
<text x="377.70" y="330.80" font-size="9.4" text-anchor="middle" fill="#111" stroke="#111">hCCL23</text>
<text x="462.60" y="330.80" font-size="9.4" text-anchor="middle" fill="#111" stroke="#111">1.0 nM</text>
<text x="377.70" y="347.70" font-size="9.4" text-anchor="middle" fill="#111" stroke="#111">hCCL5</text>
<text x="462.60" y="347.70" font-size="9.4" text-anchor="middle" fill="#111" stroke="#111">3.0 nM</text>
</svg>
</body></html>
